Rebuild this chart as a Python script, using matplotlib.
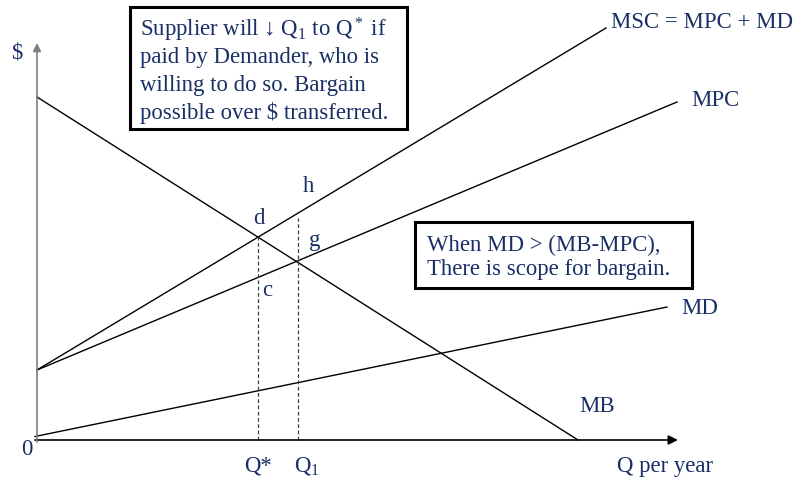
import matplotlib
matplotlib.use("Agg")
import matplotlib.pyplot as plt
from matplotlib.patches import Rectangle

# Curve end points (Q, $)
mb_q = [0.0, 54.1]
mb_p = [34.3, 0.0]
mpc_q = [0.0, 64.0]
mpc_p = [7.0, 33.8]
msc_q = [0.0, 56.9]
msc_p = [7.0, 41.2]
md_q = [-0.2, 63.0]
md_p = [0.35, 13.3]

q_star = 22.1
q_one = 26.1
q_star_top = 20.3
q_one_top = 22.2

navy = "#1A2F66"
plt.rcParams["font.family"] = ["Liberation Serif", "DejaVu Serif"]
plt.rcParams["mathtext.fontset"] = "custom"
plt.rcParams["mathtext.rm"] = "Liberation Serif"
plt.rcParams["mathtext.it"] = "Liberation Serif"

fig = plt.figure(figsize=(7.96, 4.81), dpi=100)
ax = fig.add_axes([0, 0, 1, 1])
ax.set_xlim(-3.7, 75.9)
ax.set_ylim(-4.0, 44.1)
ax.axis("off")

# axes with arrows
ax.annotate("", xy=(64.1, 0), xytext=(-0.2, 0),
            arrowprops=dict(arrowstyle="-|>", color="black", lw=1.2,
                            mutation_scale=14, shrinkA=0, shrinkB=0))
ax.annotate("", xy=(0, 39.7), xytext=(0, -0.2),
            arrowprops=dict(arrowstyle="-|>", color="#7f7f7f", lw=1.2,
                            mutation_scale=12, shrinkA=0, shrinkB=0))

lw = 1.0
ax.plot(mb_q, mb_p, color="black", lw=lw)
ax.plot(mpc_q, mpc_p, color="black", lw=lw)
ax.plot(msc_q, msc_p, color="black", lw=lw)
ax.plot(md_q, md_p, color="black", lw=lw)

ax.plot([q_star, q_star], [0, q_star_top], color="#404040", lw=0.9, ls=(0, (3, 2)))
ax.plot([q_one, q_one], [0, q_one_top], color="#404040", lw=0.9, ls=(0, (3, 2)))

fs = 16.4
txt = dict(color=navy, fontsize=fs, ha="center", va="center")
ax.text(-2.0, 38.8, "$", **txt)
ax.text(-1.0, -0.9, "0", **txt)
ax.text(22.1, -2.5, "Q*", **txt)
ax.text(27.0, -2.5, r"Q$_1$", **txt)
ax.text(62.8, -2.6, "Q per year", **txt)
ax.text(56.0, 3.4, "MB", **txt)
ax.text(66.3, 13.3, "MD", **txt)
ax.text(67.8, 34.1, "MPC", **txt)
ax.text(66.5, 41.9, "MSC = MPC + MD", **txt)
ax.text(27.1, 25.4, "h", **txt)
ax.text(22.2, 22.2, "d", **txt)
ax.text(27.8, 20.0, "g", **txt)
ax.text(23.0, 15.0, "c", **txt)

# text boxes
ax.add_patch(Rectangle((9.3, 31.1), 27.7, 12.2, fill=False, ec="black", lw=2.2))
box1 = [r"Supplier will ↓ Q$_1$ to Q$^*$ if",
        "paid by Demander, who is",
        "willing to do so. Bargain",
        "possible over $ transferred."]
for i, line in enumerate(box1):
    ax.text(10.3, 41.1 - 2.75 * i, line, color=navy, fontsize=fs, ha="left", va="center")

ax.add_patch(Rectangle((37.8, 15.2), 27.7, 6.6, fill=False, ec="black", lw=2.2))
box2 = ["When MD > (MB-MPC),", "There is scope for bargain."]
for i, line in enumerate(box2):
    ax.text(39.0, 19.6 - 2.5 * i, line, color=navy, fontsize=fs, ha="left", va="center")

fig.savefig("out.png", dpi=100)
